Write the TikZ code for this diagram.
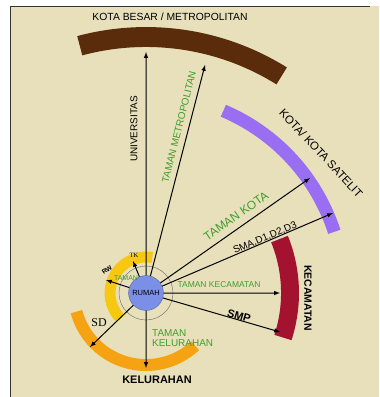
\documentclass[tikz,border=0pt]{standalone}
\usepackage{fontspec}
\setmainfont{Liberation Sans}
\newfontfamily\serifnt{Liberation Serif}
\usetikzlibrary{positioning}

\definecolor{bgbeige}{HTML}{E8E0BA}
\definecolor{kotabrown}{HTML}{5A2C0C}
\definecolor{satpurple}{HTML}{9A6EF2}
\definecolor{kecred}{HTML}{A3122E}
\definecolor{twyellow}{HTML}{F6C812}
\definecolor{kelorange}{HTML}{F5A312}
\definecolor{rumahblue}{HTML}{7B8FE6}
\definecolor{tamangreen}{HTML}{3E9E2E}

\newcommand{\fsz}[1]{\fontsize{#1}{#1}\selectfont}

\begin{document}
\begin{tikzpicture}[scale=0.3528]
	\tikzstyle{every node}+=[inner sep=0pt]
	\tikzstyle{ray}=[black, line width=1pt, -latex]
	\tikzstyle{taman}=[text=tamangreen]
	\useasboundingbox (0,0) rectangle (37.9,-39.7);
	\fill [bgbeige] (1.0,-0.6) rectangle (37.9,-39.7);
	\draw [black!80, line width=0.8pt] (1.0,-39.7) -- (1.0,-0.6) -- (37.0,-0.6);
	\coordinate (c) at (14.6,-29.3);
	% the rings
	\draw [kotabrown, line width=20pt] (c) ++(58:25.6) arc (58:105:25.6);
	\draw [satpurple, line width=13pt] (c) ++(18:19.8) arc (18:67:19.8);
	\draw [kecred, line width=18pt] (c) ++(-18:14.4) arc (-18:22:14.4);
	\draw [kelorange, line width=12pt] (c) ++(195:7.2) arc (195:313:7.2);
	\draw [twyellow, line width=11pt] (c) ++(80:3.6) arc (80:225:3.6);
	\draw [black!60, line width=0.4pt] (c) circle (2.7);
	\node (rumah) at (c) [circle, minimum size=35pt, fill=rumahblue, draw=rumahblue!70!black, line width=0.4pt, font=\fsz{7.5}] {RUMAH};
	% arrow ends
	\coordinate (univ) at (14.6,-5.2);
	\coordinate (metro) at (20.5,-6.5);
	\coordinate (kota) at (31.0,-17.8);
	\coordinate (sma) at (33.3,-21.3);
	\coordinate (kec) at (28.0,-29.3);
	\coordinate (smp) at (28.0,-33.2);
	\coordinate (kel) at (14.6,-36.8);
	\coordinate (sd) at (9.0,-34.7);
	\coordinate (rw) at (10.6,-28.0);
	\coordinate (tk) at (13.3,-26.1);
	\draw [ray] (rumah) -- (univ);
	\draw [ray] (rumah) -- (metro);
	\draw [ray] (rumah) -- (kota);
	\draw [ray] (rumah) -- (sma);
	\draw [ray] (rumah) -- (kec);
	\draw [ray] (rumah) -- (smp);
	\draw [ray] (rumah) -- (kel);
	\draw [ray] (rumah) -- (sd);
	\draw [ray] (rumah) -- (rw);
	\draw [ray] (rumah) -- (tk);
	% labels
	\node (kotabesar) at (17.0,-1.7) [font=\fsz{10.4}] {KOTA BESAR / METROPOLITAN};
	\node (satelit) at (32.1,-15.3) [rotate=-47, font=\fsz{11.5}] {KOTA/ KOTA SATELIT};
	\node (kecamatan) at (30.8,-29.8) [rotate=-90, font=\bfseries\fsz{10.5}] {KECAMATAN};
	\node (kelurahan) at (15.7,-38.0) [font=\bfseries\fsz{11}] {KELURAHAN};
	\node (univtxt) at (13.4,-12.9) [rotate=90, font=\fsz{10}] {UNIVERSITAS};
	\node (metrotxt) at (17.9,-12.7) [taman, rotate=76, font=\fsz{10}] {TAMAN METROPOLITAN};
	\node (kotatxt) at (23.6,-21.6) [taman, rotate=35, font=\fsz{12}] {TAMAN KOTA};
	\node (smatxt) at (26.5,-23.8) [rotate=23, font=\fsz{10}] {SMA,D1,D2,D3};
	\node (kectxt) at (21.9,-28.5) [taman, font=\fsz{8.5}] {TAMAN KECAMATAN};
	\node (smptxt) at (23.9,-31.6) [rotate=-16, font=\bfseries\fsz{11}] {SMP};
	\node (keltxt) at (15.2,-33.8) [taman, anchor=west, align=left, font=\fsz{10}] {TAMAN\\KELURAHAN};
	\node (sdtxt) at (9.9,-32.3) [font=\serifnt\fsz{12}] {SD};
	\node (rwtxt) at (10.7,-27.0) [rotate=35, font=\bfseries\fsz{6.5}] {RW};
	\node (tamantxt) at (12.6,-27.8) [taman, font=\fsz{7}] {TAMAN};
	\node (tktxt) at (13.4,-25.5) [font=\serifnt\fsz{6.5}] {TK};
\end{tikzpicture}
\end{document}
